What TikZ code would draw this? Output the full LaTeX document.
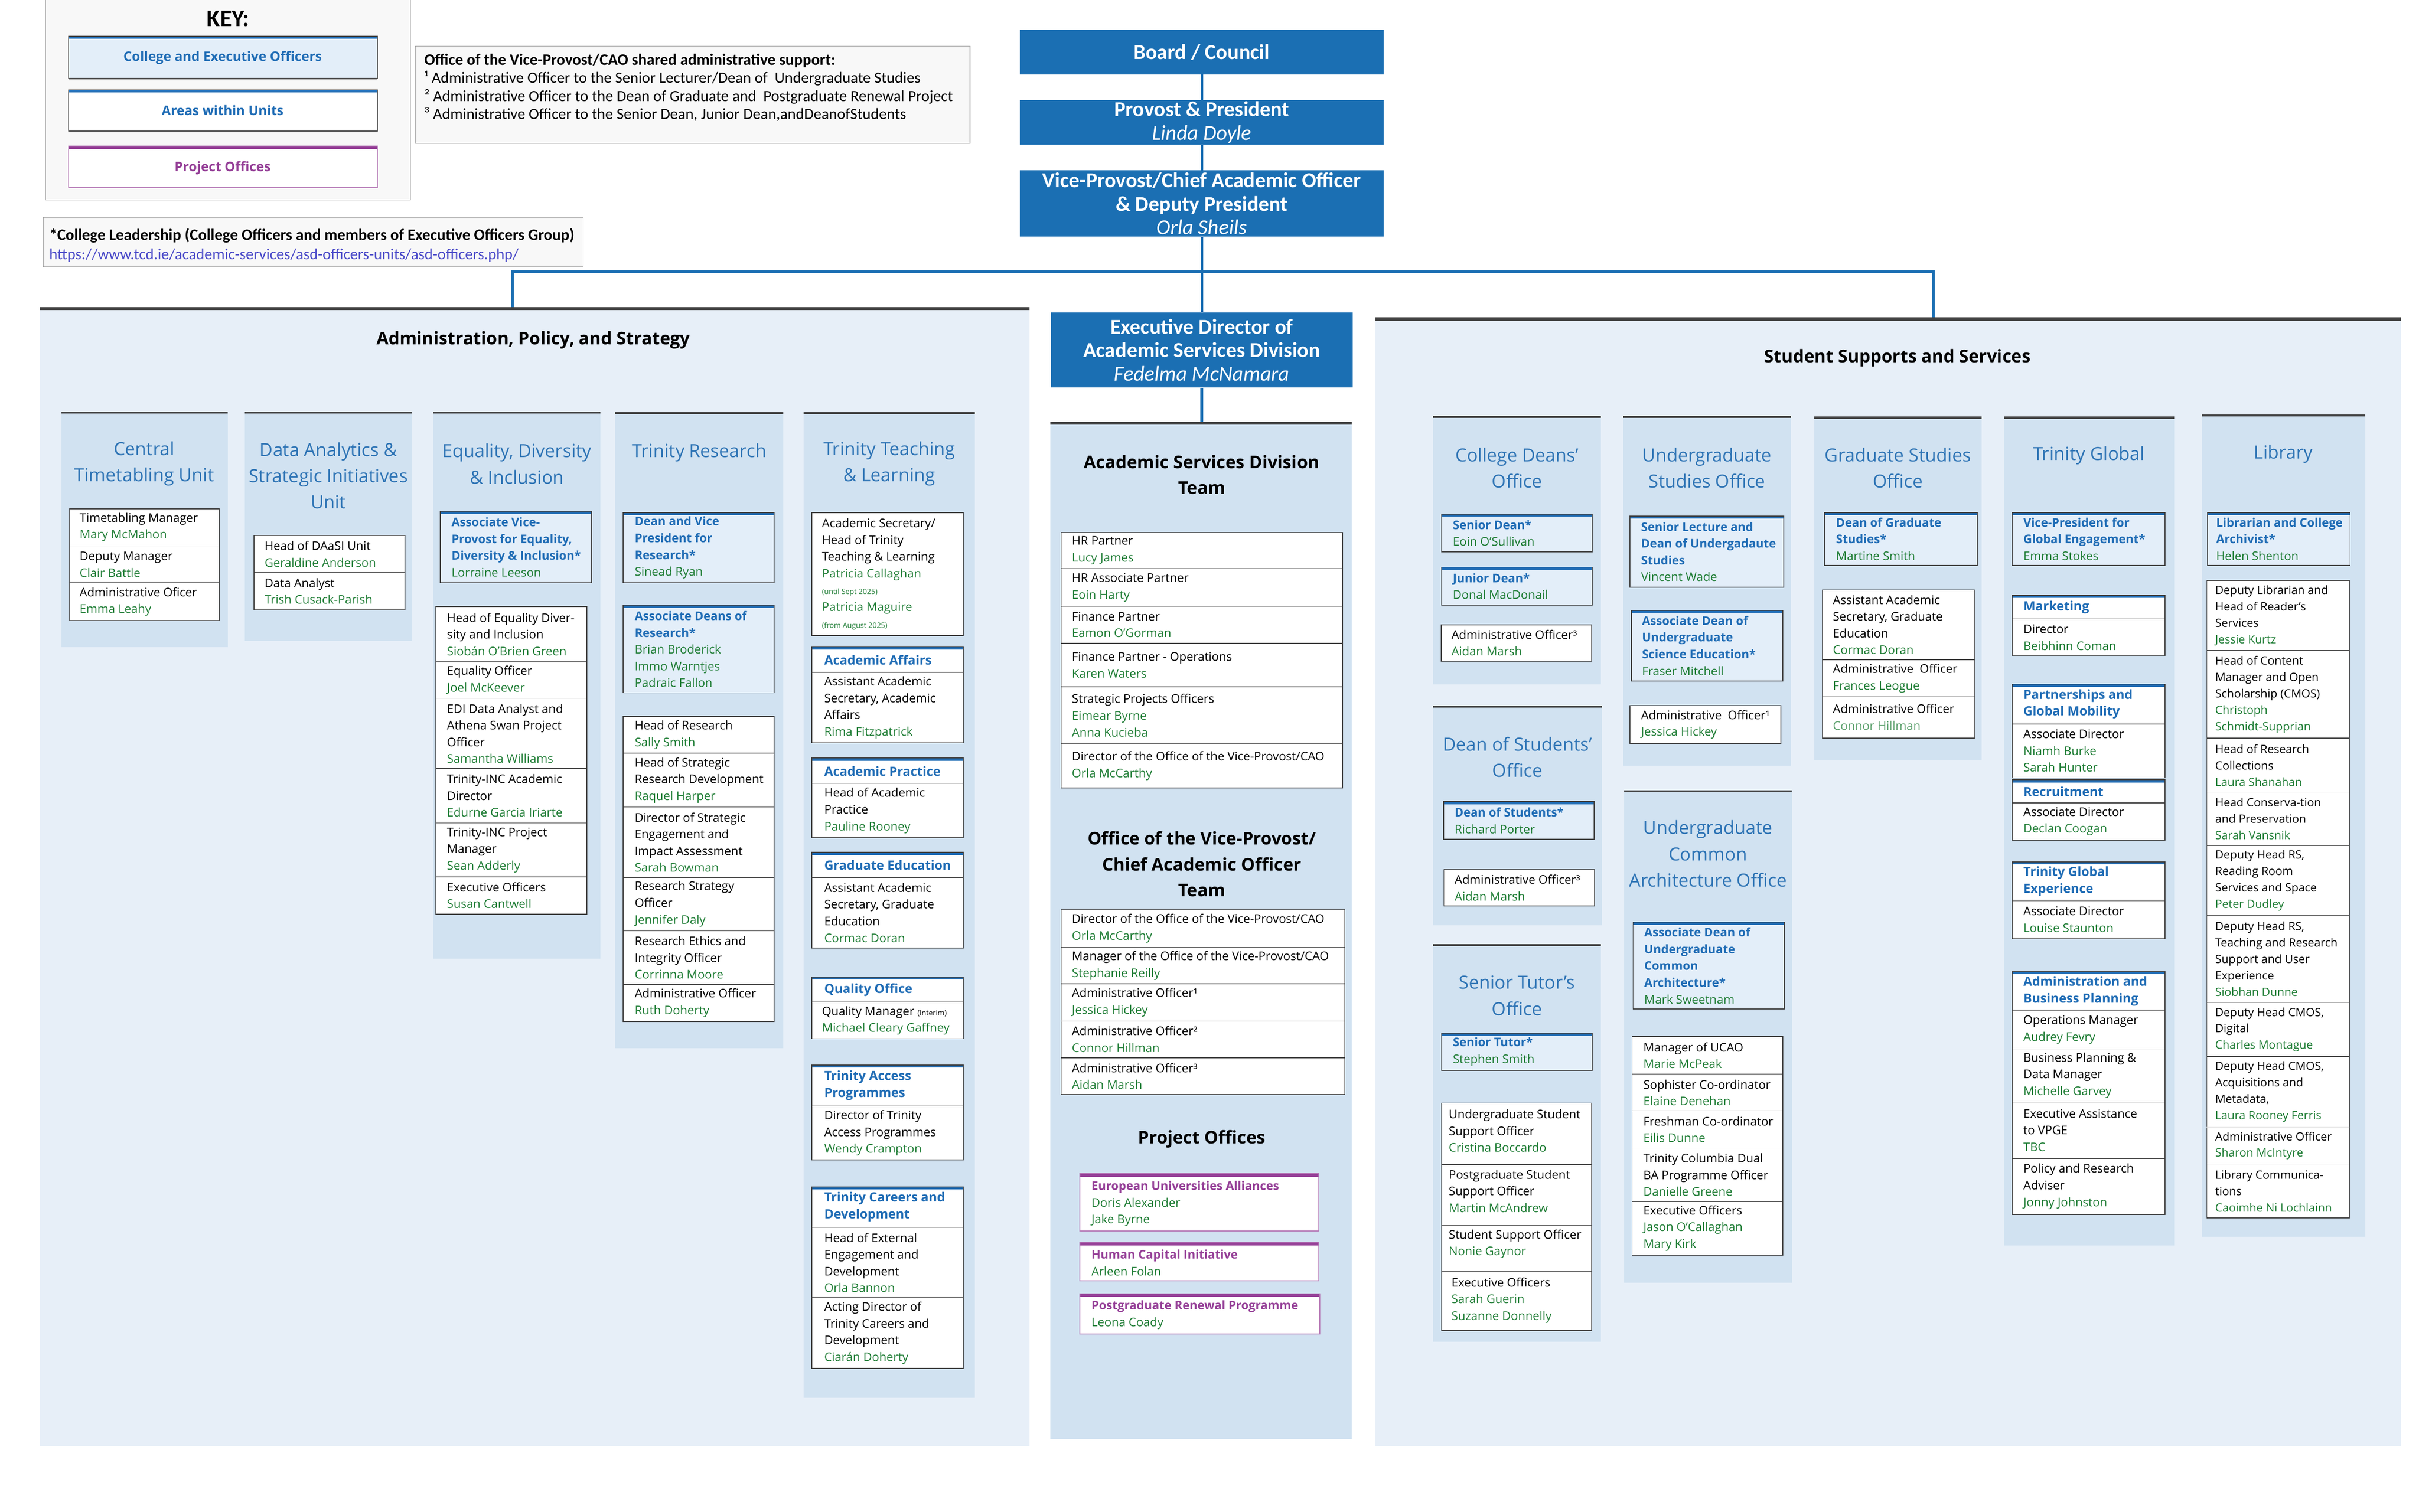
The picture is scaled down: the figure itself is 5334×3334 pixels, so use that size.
\documentclass[tikz,border=0pt]{standalone}
\usepackage{fontspec}
\setmainfont{Open Sans}
\newfontfamily\calib{Carlito}

\definecolor{topblue}{HTML}{1B6FB3}
\definecolor{titleblue}{HTML}{2E74B5}
\definecolor{hdblue}{HTML}{1F6CB5}
\definecolor{namegreen}{HTML}{1F7D35}
\definecolor{projpurple}{HTML}{953F97}
\definecolor{panelbg}{HTML}{E7EFF8}
\definecolor{colbg}{HTML}{D1E2F1}
\definecolor{hdfill}{HTML}{E3EEF9}
\definecolor{darkline}{HTML}{404040}
\definecolor{linkblue}{HTML}{4B4BC9}
\definecolor{notebg}{HTML}{F8F8F8}

\newdimen\px \px=0.1mm
\newcommand\cellfont{\fontsize{7.5}{10.5}\selectfont}
\newcommand\nm[1]{{\mdseries\color{namegreen}#1}}
\newcommand\wee[1]{{\fontsize{4.6}{6}\selectfont #1}}

\begin{document}
\begin{tikzpicture}[x=0.1mm,y=-0.1mm,
  panel/.style={fill=panelbg,path picture={\fill[darkline] (path picture bounding box.north west) rectangle ([yshift=-2pt]path picture bounding box.north east);}},
  column/.style={fill=colbg,path picture={\fill[darkline] (path picture bounding box.north west) rectangle ([yshift=-1.3pt]path picture bounding box.north east);}},
  cellbox/.style={draw=darkline,line width=0.5pt,fill=white},
  headbox/.style={draw=darkline,line width=0.5pt,fill=hdfill,path picture={\fill[hdblue] (path picture bounding box.north west) rectangle ([yshift=-1.6pt]path picture bounding box.north east);}},
  secbox/.style={headbox,fill=white},
  projbox/.style={draw=projpurple!70,line width=0.5pt,fill=white,path picture={\fill[projpurple] (path picture bounding box.north west) rectangle ([yshift=-2pt]path picture bounding box.north east);}},
  rowsep/.style={draw=darkline,line width=0.4pt},
  txt/.style={anchor=west,align=left,inner sep=0pt,font=\cellfont},
  libtxt/.style={txt,font=\fontsize{7.2}{10.3}\selectfont},
  headtxt/.style={txt,font=\cellfont\bfseries,text=hdblue},
  projtxt/.style={txt,font=\cellfont\bfseries,text=projpurple},
  sechd/.style={txt,font=\fontsize{8}{10.5}\selectfont\bfseries,text=hdblue},
  keytxt/.style={inner sep=0pt,font=\fontsize{8.3}{10}\selectfont\bfseries},
  unit/.style={align=center,inner sep=0pt,text=titleblue,font=\fontsize{11.4}{16.5}\selectfont},
  paneltitle/.style={align=center,inner sep=0pt,font=\fontsize{11}{16.2}\selectfont\bfseries},
  bigbox/.style={fill=topblue,text=white,align=center,inner sep=0pt,font=\calib\fontsize{13.3}{14.8}\selectfont\bfseries},
  link/.style={draw=topblue,line width=1.5pt}]
\useasboundingbox (0,0) rectangle (5334,3334);
\fill[white] (0,0) rectangle (5334,3334);

% key and notes
\draw[gray!70,fill=notebg] (101,-10) rectangle (905,441);
\node[font=\calib\fontsize{15}{18}\selectfont\bfseries] (keyhead) at (503,41) {KEY:};
\path[headbox] (151,80) rectangle (832,173);
\draw[darkline,line width=1pt] (151,173) -- (832,173);
\node[keytxt,text=hdblue] (keyexec) at (491,127) {College and Executive Officers};
\path[secbox] (151,198) rectangle (832,289);
\node[keytxt,text=hdblue] (keyarea) at (491,244) {Areas within Units};
\path[projbox] (151,322) rectangle (832,414);
\node[keytxt,text=projpurple] (keyproj) at (491,370) {Project Offices};

\draw[gray!80,fill=notebg] (916,102) rectangle (2139,316);
\node[anchor=west,align=left,inner sep=0pt,font=\calib\fontsize{9.8}{11.3}\selectfont] (vpnote) at (935,193)
  {{\fontsize{10}{11.3}\selectfont\bfseries Office of the Vice-Provost/CAO shared administrative support:}\\
   ¹ Administrative Officer to the Senior Lecturer/Dean of\ \ Undergraduate Studies\\
   ² Administrative Officer to the Dean of Graduate and\ \ Postgraduate Renewal Project\\
   ³ Administrative Officer to the Senior Dean, Junior Dean,andDeanofStudents};
\draw[gray!80,fill=notebg] (95,479) rectangle (1286,588);
\node[anchor=west,align=left,inner sep=0pt,font=\calib\fontsize{9.8}{12.2}\selectfont] (leadnote) at (108,541)
  {{\fontsize{10}{12.2}\selectfont\bfseries *College Leadership (College Officers and members of Executive Officers Group)}\\
   \textcolor{linkblue}{https://www.tcd.ie/academic-services/asd-officers-units/asd-officers.php/}};

% top of the chart
\node[bigbox,minimum width=803\px,minimum height=98\px] (board) at (2650,115) {Board / Council};
\node[bigbox,minimum width=803\px,minimum height=98\px] (provost) at (2650,270) {Provost \& President\\{\mdseries\itshape Linda Doyle}};
\node[bigbox,minimum width=803\px,minimum height=146\px] (vpcao) at (2650,449) {Vice-Provost/Chief Academic Officer\\\& Deputy President\\{\mdseries\itshape Orla Sheils}};
\node[bigbox,minimum width=665\px,minimum height=166\px] (execdir) at (2650,772) {Executive Director of\\Academic Services Division\\{\mdseries\itshape Fedelma McNamara}};

% Administration, Policy, and Strategy
\path[panel] (88,677) rectangle (2270,3190);
\node[paneltitle] (aps) at (1176,750) {Administration, Policy, and Strategy};

\path[column] (135,908) rectangle (502,1427);
\node[unit] (ctu) at (318,1023) {Central\\Timetabling Unit};
\path[cellbox] (153,1122) rectangle (483,1369);
\foreach \y in {1204,1285} \draw[rowsep] (153,\y) -- (483,\y);
\node[txt] (ctu1) at (175,1163) {Timetabling Manager\\\nm{Mary McMahon}};
\node[txt] (ctu2) at (175,1245) {Deputy Manager\\\nm{Clair Battle}};
\node[txt] (ctu3) at (175,1327) {Administrative Oficer\\\nm{Emma Leahy}};

\path[column] (540,908) rectangle (909,1413);
\node[unit] (dasi) at (724,1049) {Data Analytics \&\\Strategic Initiatives\\Unit};
\path[cellbox] (560,1181) rectangle (893,1345);
\draw[rowsep] (560,1263) -- (893,1263);
\node[txt] (dasi1) at (583,1222) {Head of DAaSI Unit\\\nm{Geraldine Anderson}};
\node[txt] (dasi2) at (583,1304) {Data Analyst\\\nm{Trish Cusack-Parish}};

\path[column] (955,908) rectangle (1324,2114);
\node[unit] (edi) at (1140,1023) {Equality, Diversity\\\& Inclusion};
\path[headbox] (971,1128) rectangle (1305,1285);
\node[headtxt] (edi0) at (995,1207) {Associate Vice-\\Provost for Equality,\\Diversity \& Inclusion*\\\nm{Lorraine Leeson}};
\path[cellbox] (961,1338) rectangle (1294,2016);
\foreach \y in {1459,1540,1695,1815,1934} \draw[rowsep] (961,\y) -- (1294,\y);
\node[txt] (edi1) at (985,1399) {Head of Equality Diver-\\sity and Inclusion\\\nm{Siobán O’Brien Green}};
\node[txt] (edi2) at (985,1500) {Equality Officer\\\nm{Joel McKeever}};
\node[txt] (edi3) at (985,1618) {EDI Data Analyst and\\Athena Swan Project\\Officer\\\nm{Samantha Williams}};
\node[txt] (edi4) at (985,1755) {Trinity-INC Academic\\Director\\\nm{Edurne Garcia Iriarte}};
\node[txt] (edi5) at (985,1875) {Trinity-INC Project\\Manager\\\nm{Sean Adderly}};
\node[txt] (edi6) at (985,1975) {Executive Officers\\\nm{Susan Cantwell}};

\path[column] (1356,909) rectangle (1727,2312);
\node[unit] (tr) at (1542,998) {Trinity Research};
\path[headbox] (1374,1131) rectangle (1707,1285);
\node[headtxt] (tr0) at (1399,1208) {Dean and Vice\\President for\\Research*\\\nm{Sinead Ryan}};
\path[headbox] (1374,1335) rectangle (1707,1528);
\node[headtxt] (tr00) at (1399,1432) {Associate Deans of\\Research*\\\nm{Brian Broderick}\\\nm{Immo Warntjes}\\\nm{Padraic Fallon}};
\path[cellbox] (1374,1580) rectangle (1707,2253);
\foreach \y in {1661,1780,1935,2053,2171} \draw[rowsep] (1374,\y) -- (1707,\y);
\node[txt] (tr1) at (1399,1621) {Head of Research\\\nm{Sally Smith}};
\node[txt] (tr2) at (1399,1721) {Head of Strategic\\Research Development\\\nm{Raquel Harper}};
\node[txt] (tr3) at (1399,1858) {Director of Strategic\\Engagement and\\Impact Assessment\\\nm{Sarah Bowman}};
\node[txt] (tr4) at (1399,1994) {Research Strategy\\Officer\\\nm{Jennifer Daly}};
\node[txt] (tr5) at (1399,2112) {Research Ethics and\\Integrity Officer\\\nm{Corrinna Moore}};
\node[txt] (tr6) at (1399,2212) {Administrative Officer\\\nm{Ruth Doherty}};

\path[column] (1772,909) rectangle (2150,3083);
\node[unit] (ttl) at (1961,1023) {Trinity Teaching\\\& Learning};
\path[cellbox] (1790,1131) rectangle (2124,1402);
\node[txt] (ttl0) at (1812,1266) {Academic Secretary/\\Head of Trinity\\Teaching \& Learning\\\nm{Patricia Callaghan}\\\nm{\wee{(until Sept 2025)}}\\\nm{Patricia Maguire}\\\nm{\wee{(from August 2025)}}};
\path[secbox] (1790,1427) rectangle (2124,1638);
\draw[rowsep] (1790,1483) -- (2124,1483);
\node[sechd] (aa) at (1817,1456) {Academic Affairs};
\node[txt] (aa1) at (1817,1561) {Assistant Academic\\Secretary, Academic\\Affairs\\\nm{Rima Fitzpatrick}};
\path[secbox] (1790,1672) rectangle (2124,1848);
\draw[rowsep] (1790,1728) -- (2124,1728);
\node[sechd] (ap) at (1817,1701) {Academic Practice};
\node[txt] (ap1) at (1817,1788) {Head of Academic\\Practice\\\nm{Pauline Rooney}};
\path[secbox] (1790,1880) rectangle (2124,2091);
\draw[rowsep] (1790,1935) -- (2124,1935);
\node[sechd] (ge) at (1817,1908) {Graduate Education};
\node[txt] (ge1) at (1817,2013) {Assistant Academic\\Secretary, Graduate\\Education\\\nm{Cormac Doran}};
\path[secbox] (1790,2155) rectangle (2124,2291);
\draw[rowsep] (1790,2210) -- (2124,2210);
\node[sechd] (qo) at (1817,2183) {Quality Office};
\node[txt] (qo1) at (1812,2251) {Quality Manager \wee{(Interim)}\\\nm{Michael Cleary Gaffney}};
\path[secbox] (1790,2349) rectangle (2124,2558);
\draw[rowsep] (1790,2439) -- (2124,2439);
\node[sechd] (tap) at (1817,2394) {Trinity Access\\Programmes};
\node[txt] (tap1) at (1817,2499) {Director of Trinity\\Access Programmes\\\nm{Wendy Crampton}};
\path[secbox] (1790,2618) rectangle (2124,3018);
\foreach \y in {2707,2862} \draw[rowsep] (1790,\y) -- (2124,\y);
\node[sechd] (tcd) at (1817,2662) {Trinity Careers and\\Development};
\node[txt] (tcd1) at (1817,2785) {Head of External\\Engagement and\\Development\\\nm{Orla Bannon}};
\node[txt] (tcd2) at (1817,2940) {Acting Director of\\Trinity Careers and\\Development\\\nm{Ciarán Doherty}};

% Academic Services Division
\path[panel,fill=colbg] (2316,930) rectangle (2981,3174);
\node[paneltitle] (asdteam) at (2650,1047) {Academic Services Division\\Team};
\path[cellbox] (2340,1174) rectangle (2960,1738);
\foreach \y in {1254,1337,1419,1515,1640} \draw[rowsep] (2340,\y) -- (2960,\y);
\node[txt] (asd1) at (2363,1214) {HR Partner\\\nm{Lucy James}};
\node[txt] (asd2) at (2363,1296) {HR Associate Partner\\\nm{Eoin Harty}};
\node[txt] (asd3) at (2363,1378) {Finance Partner\\\nm{Eamon O’Gorman}};
\node[txt] (asd4) at (2363,1467) {Finance Partner - Operations\\\nm{Karen Waters}};
\node[txt] (asd5) at (2363,1578) {Strategic Projects Officers\\\nm{Eimear Byrne}\\\nm{Anna Kucieba}};
\node[txt] (asd6) at (2363,1689) {Director of the Office of the Vice-Provost/CAO\\\nm{Orla McCarthy}};
\node[paneltitle] (vpoteam) at (2650,1906) {Office of the Vice-Provost/\\Chief Academic Officer\\Team};
\path[cellbox] (2340,2006) rectangle (2965,2414);
\foreach \y in {2089,2170,2333} \draw[rowsep] (2340,\y) -- (2965,\y);
\draw[rowsep,gray!25] (2340,2252) -- (2965,2252);
\node[txt] (vpo1) at (2363,2048) {Director of the Office of the Vice-Provost/CAO\\\nm{Orla McCarthy}};
\node[txt] (vpo2) at (2363,2130) {Manager of the Office of the Vice-Provost/CAO\\\nm{Stephanie Reilly}};
\node[txt] (vpo3) at (2363,2211) {Administrative Officer¹\\\nm{Jessica Hickey}};
\node[txt] (vpo4) at (2363,2292) {Administrative Officer²\\\nm{Connor Hillman}};
\node[txt] (vpo5) at (2363,2374) {Administrative Officer³\\\nm{Aidan Marsh}};
\node[paneltitle] (projoff) at (2650,2512) {Project Offices};
\path[projbox] (2381,2588) rectangle (2908,2715);
\node[projtxt] (eua) at (2406,2655) {European Universities Alliances\\\nm{Doris Alexander}\\\nm{Jake Byrne}};
\path[projbox] (2381,2740) rectangle (2908,2825);
\node[projtxt] (hci) at (2406,2785) {Human Capital Initiative\\\nm{Arleen Folan}};
\path[projbox] (2381,2853) rectangle (2910,2942);
\node[projtxt] (prp) at (2406,2900) {Postgraduate Renewal Programme\\\nm{Leona Coady}};

% Student Supports and Services
\path[panel] (3033,700) rectangle (5295,3190);
\node[paneltitle] (sss) at (4184,789) {Student Supports and Services};

\path[column] (3160,917) rectangle (3530,1509);
\node[unit] (cdo) at (3345,1032) {College Deans’\\Office};
\path[headbox] (3179,1134) rectangle (3511,1217);
\node[headtxt] (cdo1) at (3203,1176) {Senior Dean*\\\nm{Eoin O’Sullivan}};
\path[headbox] (3179,1251) rectangle (3511,1335);
\node[headtxt] (cdo2) at (3203,1293) {Junior Dean*\\\nm{Donal MacDonail}};
\path[cellbox] (3178,1378) rectangle (3510,1458);
\node[txt] (cdo3) at (3200,1418) {Administrative Officer³\\\nm{Aidan Marsh}};

\path[column] (3160,1556) rectangle (3532,2041);
\node[unit] (dso) at (3346,1670) {Dean of Students’\\Office};
\path[headbox] (3183,1768) rectangle (3515,1851);
\node[headtxt] (dso1) at (3207,1810) {Dean of Students*\\\nm{Richard Porter}};
\path[cellbox] (3184,1918) rectangle (3516,1998);
\node[txt] (dso2) at (3207,1958) {Administrative Officer³\\\nm{Aidan Marsh}};

\path[column] (3160,2082) rectangle (3530,2959);
\node[unit] (sto) at (3345,2196) {Senior Tutor’s\\Office};
\path[headbox] (3179,2279) rectangle (3511,2361);
\node[headtxt] (sto0) at (3203,2320) {Senior Tutor*\\\nm{Stephen Smith}};
\path[cellbox] (3179,2433) rectangle (3510,2935);
\foreach \y in {2569,2703,2804} \draw[rowsep] (3179,\y) -- (3510,\y);
\node[txt] (sto1) at (3194,2494) {Undergraduate Student\\Support Officer\\\nm{Cristina Boccardo}};
\node[txt] (sto2) at (3194,2627) {Postgraduate Student\\Support Officer\\\nm{Martin McAndrew}};
\node[txt] (sto3) at (3194,2744) {Student Support Officer\\\nm{Nonie Gaynor}};
\node[txt] (sto4) at (3200,2868) {Executive Officers\\\nm{Sarah Guerin}\\\nm{Suzanne Donnelly}};

\path[column] (3579,917) rectangle (3949,1689);
\node[unit] (ugs) at (3764,1032) {Undergraduate\\Studies Office};
\path[headbox] (3594,1138) rectangle (3933,1295);
\node[headtxt] (ugs1) at (3618,1217) {Senior Lecture and\\Dean of Undergadaute\\Studies\\\nm{Vincent Wade}};
\path[headbox] (3597,1346) rectangle (3931,1502);
\node[headtxt] (ugs2) at (3620,1424) {Associate Dean of\\Undergraduate\\Science Education*\\\nm{Fraser Mitchell}};
\path[cellbox] (3594,1556) rectangle (3927,1640);
\node[txt] (ugs3) at (3618,1598) {Administrative\ \ Officer¹\\\nm{Jessica Hickey}};

\path[column] (3581,1743) rectangle (3951,2829);
\node[unit] (ucao) at (3766,1883) {Undergraduate\\Common\\Architecture Office};
\path[headbox] (3601,2034) rectangle (3934,2225);
\node[headtxt] (ucao0) at (3625,2130) {Associate Dean of\\Undergraduate\\Common\\Architecture*\\\nm{Mark Sweetnam}};
\path[cellbox] (3599,2286) rectangle (3931,2768);
\foreach \y in {2369,2450,2532,2650} \draw[rowsep] (3599,\y) -- (3931,\y);
\node[txt] (ucao1) at (3623,2328) {Manager of UCAO\\\nm{Marie McPeak}};
\node[txt] (ucao2) at (3623,2410) {Sophister Co-ordinator\\\nm{Elaine Denehan}};
\node[txt] (ucao3) at (3623,2491) {Freshman Co-ordinator\\\nm{Eilis Dunne}};
\node[txt] (ucao4) at (3623,2591) {Trinity Columbia Dual\\BA Programme Officer\\\nm{Danielle Greene}};
\node[txt] (ucao5) at (3623,2709) {Executive Officers\\\nm{Jason O’Callaghan}\\\nm{Mary Kirk}};

\path[column] (4000,919) rectangle (4370,1676);
\node[unit] (gso) at (4185,1032) {Graduate Studies\\Office};
\path[headbox] (4023,1131) rectangle (4360,1247);
\node[headtxt] (gso0) at (4048,1189) {Dean of Graduate\\Studies*\\\nm{Martine Smith}};
\path[cellbox] (4018,1301) rectangle (4354,1628);
\foreach \y in {1455,1537} \draw[rowsep] (4018,\y) -- (4354,\y);
\node[txt] (gso1) at (4041,1378) {Assistant Academic\\Secretary, Graduate\\Education\\\nm{Cormac Doran}};
\node[txt] (gso2) at (4041,1496) {Administrative\ \ Officer\\\nm{Frances Leogue}};
\node[txt] (gso3) at (4041,1582) {Administrative Officer\\\textcolor{namegreen!70}{Connor Hillman}};

\path[column] (4419,919) rectangle (4794,2747);
\node[unit] (tg) at (4606,1005) {Trinity Global};
\path[headbox] (4437,1131) rectangle (4774,1247);
\node[headtxt] (tg0) at (4461,1189) {Vice-President for\\Global Engagement*\\\nm{Emma Stokes}};
\path[secbox] (4437,1313) rectangle (4774,1446);
\draw[rowsep] (4437,1365) -- (4774,1365);
\node[sechd] (mkt) at (4461,1340) {Marketing};
\node[txt] (mkt1) at (4461,1406) {Director\\\nm{Beibhinn Coman}};
\path[secbox] (4437,1509) rectangle (4774,1716);
\draw[rowsep] (4437,1597) -- (4774,1597);
\node[sechd] (pgm) at (4461,1553) {Partnerships and\\Global Mobility};
\node[txt] (pgm1) at (4461,1656) {Associate Director\\\nm{Niamh Burke}\\\nm{Sarah Hunter}};
\path[secbox] (4437,1720) rectangle (4774,1853);
\draw[rowsep] (4437,1771) -- (4774,1771);
\node[sechd] (rec) at (4461,1746) {Recruitment};
\node[txt] (rec1) at (4461,1812) {Associate Director\\\nm{Declan Coogan}};
\path[secbox] (4437,1901) rectangle (4774,2070);
\draw[rowsep] (4437,1987) -- (4774,1987);
\node[sechd] (tge) at (4461,1944) {Trinity Global\\Experience};
\node[txt] (tge1) at (4461,2028) {Associate Director\\\nm{Louise Staunton}};
\path[secbox] (4437,2143) rectangle (4774,2679);
\foreach \y in {2229,2313,2431,2555} \draw[rowsep] (4437,\y) -- (4774,\y);
\node[sechd] (abp) at (4461,2186) {Administration and\\Business Planning};
\node[txt] (abp1) at (4461,2271) {Operations Manager\\\nm{Audrey Fevry}};
\node[txt] (abp2) at (4461,2372) {Business Planning \&\\Data Manager\\\nm{Michelle Garvey}};
\node[txt] (abp3) at (4461,2493) {Executive Assistance\\to VPGE\\\nm{TBC}};
\node[txt] (abp4) at (4461,2617) {Policy and Research\\Adviser\\\nm{Jonny Johnston}};

\path[column] (4855,914) rectangle (5215,2728);
\node[unit] (lib) at (5035,1001) {Library};
\path[headbox] (4868,1131) rectangle (5182,1247);
\node[headtxt] (lib0) at (4886,1189) {Librarian and College\\Archivist*\\\nm{Helen Shenton}};
\path[cellbox] (4866,1280) rectangle (5180,2686);
\foreach \y in {1435,1628,1747,1865,2019,2211,2330,2567} \draw[rowsep] (4866,\y) -- (5180,\y);
\draw[rowsep,gray!25] (4866,2486) -- (5180,2486);
\node[libtxt] (lib1) at (4884,1358) {Deputy Librarian and\\Head of Reader’s\\Services\\\nm{Jessie Kurtz}};
\node[libtxt] (lib2) at (4884,1532) {Head of Content\\Manager and Open\\Scholarship (CMOS)\\\nm{Christoph}\\\nm{Schmidt-Supprian}};
\node[libtxt] (lib3) at (4884,1688) {Head of Research\\Collections\\\nm{Laura Shanahan}};
\node[libtxt] (lib4) at (4884,1806) {Head Conserva-tion\\and Preservation\\\nm{Sarah Vansnik}};
\node[libtxt] (lib5) at (4884,1942) {Deputy Head RS,\\Reading Room\\Services and Space\\\nm{Peter Dudley}};
\node[libtxt] (lib6) at (4884,2115) {Deputy Head RS,\\Teaching and Research\\Support and User\\Experience\\\nm{Siobhan Dunne}};
\node[libtxt] (lib7) at (4884,2271) {Deputy Head CMOS,\\Digital\\\nm{Charles Montague}};
\node[libtxt] (lib8) at (4884,2408) {Deputy Head CMOS,\\Acquisitions and\\Metadata,\\\nm{Laura Rooney Ferris}};
\node[libtxt] (lib9) at (4884,2527) {Administrative Officer\\\nm{Sharon McIntyre}};
\node[libtxt] (lib10) at (4884,2627) {Library Communica-\\tions\\\nm{Caoimhe Ni Lochlainn}};

% connectors
\coordinate (hub) at (2650,600);
\coordinate (adminjoin) at (1130,677);
\coordinate (studjoin) at (4263,700);
\coordinate (asdtop) at (2650,930);
\draw[link] (board) -- (provost);
\draw[link] (provost) -- (vpcao);
\draw[link] (vpcao) -- (execdir);
\draw[link,line width=2pt] (execdir) -- (asdtop);
\draw[link,line width=1.8pt] (adminjoin) |- (hub) -| (studjoin);
\end{tikzpicture}
\end{document}
